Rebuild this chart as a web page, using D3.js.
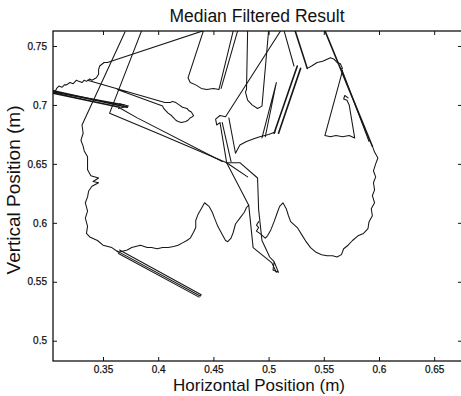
<!DOCTYPE html>
<html>
<head>
<meta charset="utf-8">
<script src="https://cdn.jsdelivr.net/npm/d3@7"></script>
<style>
  body { margin: 0; background: #fff; }
  text { font-family: "Liberation Sans", Arial, Helvetica, sans-serif; fill: #111; }
</style>
</head>
<body>
<svg id="chart" width="461" height="396"></svg>
<script>
// Axis ticks (metres)
const xTicks = [0.35, 0.4, 0.45, 0.5, 0.55, 0.6, 0.65];
const yTicks = [0.5, 0.55, 0.6, 0.65, 0.7, 0.75];

// Trajectory pieces, [horizontal (m), vertical (m)]
const upperSweep = [[0.441,0.763],[0.354,0.736],[0.351,0.736],[0.347,0.733],[0.346,0.730],[0.346,0.726],[0.344,0.723],[0.340,0.721],[0.338,0.722],[0.335,0.720],[0.333,0.721],[0.331,0.719],[0.328,0.720],[0.326,0.721],[0.323,0.718],[0.320,0.719],[0.317,0.717],[0.315,0.717],[0.313,0.715],[0.310,0.716],[0.308,0.714],[0.307,0.712],[0.305,0.712]];
const cloudLink = [[0.336,0.721],[0.406,0.702],[0.411,0.702],[0.413,0.703],[0.416,0.702],[0.419,0.700],[0.422,0.698],[0.426,0.697],[0.428,0.695],[0.430,0.694],[0.432,0.691],[0.431,0.690],[0.429,0.689],[0.427,0.687],[0.425,0.686],[0.421,0.685],[0.418,0.686],[0.416,0.687],[0.414,0.689],[0.412,0.691],[0.409,0.693],[0.407,0.695],[0.405,0.697],[0.404,0.699],[0.363,0.713]];
const strandA = [[0.305,0.712],[0.372,0.698]];
const strandB = [[0.305,0.710],[0.365,0.698]];
const strandC = [[0.305,0.711],[0.369,0.700]];
const arrowTip = [[0.365,0.701],[0.373,0.699],[0.364,0.697]];
const leftRail = [[0.385,0.763],[0.356,0.693],[0.402,0.675],[0.462,0.651],[0.481,0.639]];
const innerRail = [[0.366,0.697],[0.381,0.689],[0.458,0.652]];
const lobeLeft = [[0.370,0.762],[0.331,0.683],[0.332,0.676],[0.330,0.670],[0.332,0.665],[0.333,0.661],[0.336,0.656],[0.336,0.651],[0.336,0.645],[0.339,0.640],[0.346,0.638],[0.341,0.635],[0.346,0.634],[0.340,0.631],[0.337,0.627],[0.336,0.622],[0.334,0.617],[0.336,0.610],[0.334,0.604],[0.336,0.597],[0.335,0.591],[0.338,0.588],[0.345,0.585],[0.350,0.581],[0.358,0.579],[0.364,0.575],[0.372,0.577],[0.376,0.579],[0.384,0.581],[0.390,0.579],[0.394,0.579],[0.399,0.578],[0.404,0.579],[0.409,0.579],[0.414,0.580],[0.418,0.581],[0.422,0.583],[0.426,0.585],[0.429,0.587],[0.432,0.592],[0.434,0.596],[0.434,0.602],[0.436,0.607],[0.439,0.612],[0.442,0.617],[0.446,0.614],[0.449,0.609],[0.451,0.604],[0.454,0.597],[0.458,0.590],[0.461,0.585],[0.463,0.584],[0.466,0.587],[0.468,0.592],[0.470,0.599],[0.474,0.604],[0.478,0.609],[0.480,0.613],[0.482,0.615],[0.486,0.579],[0.503,0.566],[0.507,0.558]];
const crossDrop = [[0.462,0.651],[0.482,0.615]];
const crossRight = [[0.462,0.651],[0.466,0.651],[0.474,0.651],[0.490,0.638],[0.491,0.611],[0.494,0.585],[0.501,0.571],[0.505,0.567],[0.509,0.558],[0.504,0.560],[0.505,0.567]];
const lobeRight = [[0.491,0.601],[0.489,0.598],[0.491,0.596],[0.489,0.593],[0.492,0.591],[0.497,0.587],[0.499,0.589],[0.502,0.594],[0.505,0.601],[0.508,0.609],[0.510,0.614],[0.513,0.617],[0.516,0.612],[0.518,0.606],[0.520,0.601],[0.526,0.596],[0.530,0.590],[0.534,0.584],[0.538,0.579],[0.543,0.575],[0.548,0.573],[0.553,0.572],[0.558,0.572],[0.562,0.571],[0.566,0.573],[0.568,0.578],[0.572,0.581],[0.576,0.585],[0.581,0.589],[0.586,0.591],[0.590,0.595],[0.591,0.601],[0.594,0.606],[0.593,0.612],[0.596,0.617],[0.594,0.623],[0.596,0.628],[0.595,0.634],[0.597,0.639],[0.595,0.644],[0.597,0.650],[0.599,0.655],[0.596,0.660],[0.594,0.665]];
const diagonal = [[0.594,0.665],[0.551,0.763]];
const diagTwin = [[0.566,0.731],[0.591,0.669]];
const wedge = [[0.567,0.729],[0.551,0.674],[0.556,0.673],[0.561,0.674],[0.567,0.673],[0.573,0.674],[0.578,0.672],[0.573,0.700],[0.571,0.704],[0.568,0.705],[0.569,0.708],[0.572,0.706]];
const ridge = [[0.535,0.731],[0.539,0.733],[0.544,0.736],[0.549,0.737],[0.556,0.740],[0.559,0.739],[0.562,0.736],[0.565,0.735],[0.567,0.731]];
const ridgeDrop = [[0.524,0.763],[0.535,0.731]];
const ridgeSpur = [[0.514,0.763],[0.523,0.733]];
const hatchA = [[0.526,0.733],[0.505,0.676]];
const hatchB = [[0.529,0.731],[0.509,0.676]];
const needle = [[0.494,0.672],[0.507,0.719],[0.497,0.673]];
const tab = [[0.441,0.763],[0.427,0.723],[0.429,0.719],[0.434,0.717],[0.439,0.714],[0.444,0.713],[0.450,0.714],[0.455,0.713],[0.468,0.763]];
const tabTwin = [[0.457,0.714],[0.472,0.763]];
const pocket = [[0.481,0.763],[0.480,0.713],[0.479,0.711],[0.481,0.704],[0.485,0.700],[0.490,0.697],[0.494,0.699],[0.500,0.763]];
const slant = [[0.511,0.763],[0.461,0.690],[0.456,0.691],[0.452,0.688],[0.453,0.683],[0.456,0.685],[0.462,0.651]];
const slantTwin = [[0.458,0.685],[0.466,0.652]];
const stem = [[0.464,0.689],[0.470,0.659],[0.474,0.666],[0.480,0.669],[0.486,0.671],[0.492,0.673],[0.500,0.675],[0.506,0.677]];
const lowerA = [[0.363,0.576],[0.438,0.538]];
const lowerB = [[0.365,0.577],[0.439,0.539],[0.438,0.538]];
const lowerC = [[0.364,0.574],[0.437,0.537]];

const thinPieces = [upperSweep, cloudLink, arrowTip, leftRail, innerRail, lobeLeft, crossDrop, crossRight,
  lobeRight, diagTwin, wedge, ridge, ridgeSpur, needle, tab, tabTwin, pocket, slant, slantTwin, stem,
  lowerA, lowerB, lowerC];
const heavyPieces = [strandA, strandB, strandC, diagonal, ridgeDrop, hatchA, hatchB];

const frame = { left: 53, right: 462, top: 31, bottom: 361 };
const x = d3.scaleLinear().domain([0.3047, 0.6752]).range([frame.left, frame.right]);
const y = d3.scaleLinear().domain([0.4828, 0.7627]).range([frame.bottom, frame.top]);

const svg = d3.select("#chart");
svg.append("rect").attr("width", 461).attr("height", 396).attr("fill", "#fff");

svg.append("clipPath").attr("id", "plot-clip")
  .append("rect").attr("x", frame.left).attr("y", frame.top)
  .attr("width", frame.right - frame.left).attr("height", frame.bottom - frame.top);

const line = d3.line().x(d => x(d[0])).y(d => y(d[1]));
const traces = svg.append("g").attr("clip-path", "url(#plot-clip)")
  .attr("fill", "none").attr("stroke", "#161616")
  .attr("stroke-linejoin", "round").attr("stroke-linecap", "round");

traces.selectAll("path.thin").data(thinPieces).join("path")
  .attr("class", "thin").attr("d", line).attr("stroke-width", 1.05);
traces.selectAll("path.heavy").data(heavyPieces).join("path")
  .attr("class", "heavy").attr("d", line).attr("stroke-width", 1.6);

// Axes: ticks point into the plot on all four sides
const fmt = d3.format("~g");
const axisStyle = g => {
  g.select(".domain").remove();
  g.selectAll(".tick line").attr("stroke", "#111").attr("stroke-width", 1);
  g.selectAll("text").attr("font-size", 10).attr("fill", "#111").attr("stroke", "#111").attr("stroke-width", 0.25);
};
svg.append("g").attr("transform", `translate(0,${frame.bottom})`)
  .call(d3.axisBottom(x).tickValues(xTicks).tickFormat(fmt).tickSize(-4).tickPadding(5)).call(axisStyle);
svg.append("g").attr("transform", `translate(0,${frame.top})`)
  .call(d3.axisTop(x).tickValues(xTicks).tickFormat("").tickSize(-4)).call(axisStyle);
svg.append("g").attr("transform", `translate(${frame.left},0)`)
  .call(d3.axisLeft(y).tickValues(yTicks).tickFormat(fmt).tickSize(-4).tickPadding(6)).call(axisStyle);
svg.append("g").attr("transform", `translate(${frame.right},0)`)
  .call(d3.axisRight(y).tickValues(yTicks).tickFormat("").tickSize(-4)).call(axisStyle);

svg.append("rect").attr("x", frame.left).attr("y", frame.top)
  .attr("width", frame.right - frame.left).attr("height", frame.bottom - frame.top)
  .attr("fill", "none").attr("stroke", "#111").attr("stroke-width", 1.3);

svg.append("text").attr("x", 257).attr("y", 21.5).attr("text-anchor", "middle")
  .attr("font-size", 17.5).text("Median Filtered Result");
svg.append("text").attr("x", 259).attr("y", 391).attr("text-anchor", "middle")
  .attr("font-size", 17).text("Horizontal Position (m)");
svg.append("text").attr("transform", "translate(20,190) rotate(-90)").attr("text-anchor", "middle")
  .attr("font-size", 19).text("Vertical Position (m)");
</script>
</body>
</html>
